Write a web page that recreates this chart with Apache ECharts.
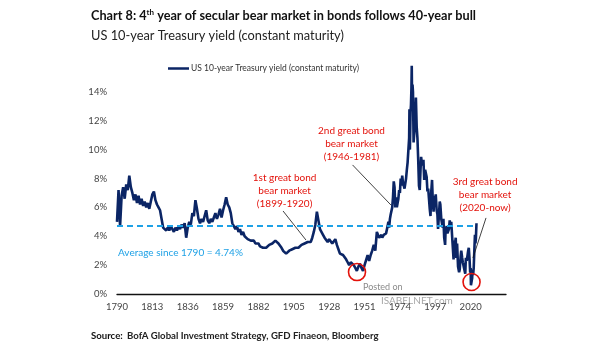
<!DOCTYPE html>
<html>
<head>
<meta charset="utf-8">
<script src="https://cdn.jsdelivr.net/npm/echarts@6/dist/echarts.min.js"></script>
<style>
  html, body { margin: 0; padding: 0; background: #fff; }
  #chart { width: 605px; height: 341px; }
</style>
</head>
<body>
<div id="chart"></div>
<script>
// ---- Data ----
const years = [
  1790,1791,1792,1793,1794,1795,1796,1797,1798,1799,
  1800,1801,1802,1803,1804,1805,1806,1807,1808,1809,
  1810,1811,1812,1813,1814,1815,1816,1817,1818,1819,
  1820,1821,1822,1823,1824,1825,1826,1827,1828,1829,
  1830,1831,1832,1833,1834,1835,1836,1837,1838,1839,
  1840,1841,1842,1843,1844,1845,1846,1847,1848,1849,
  1850,1851,1852,1853,1854,1855,1856,1857,1858,1859,
  1860,1861,1862,1863,1864,1865,1866,1867,1868,1869,
  1870,1871,1872,1873,1874,1875,1876,1877,1878,1879,
  1880,1881,1882,1883,1884,1885,1886,1887,1888,1889,
  1890,1891,1892,1893,1894,1895,1896,1897,1898,1899,
  1900,1901,1902,1903,1904,1905,1906,1907,1908,1909,
  1910,1911,1912,1913,1914,1915,1916,1917,1918,1919,
  1920,1921,1922,1923,1924,1925,1926,1927,1928,1929,
  1930,1931,1932,1933,1934,1935,1936,1937,1938,1939,
  1940,1941,1942,1943,1944,1945,1946,1947,1948,1949,
  1950,1951,1952,1953,1954,1955,1956,1957,1958,1959,
  1960,1960.5,1961,1961.5,1962,1962.5,1963,1963.5,1964,1964.5,
  1965,1965.5,1966,1966.5,1967,1967.5,1968,1968.5,1969,1969.5,
  1970,1970.5,1971,1971.5,1972,1972.5,1973,1973.5,1974,1974.5,
  1975,1975.5,1976,1976.5,1977,1977.5,1978,1978.5,1979,1979.5,
  1980,1980.2,1980.5,1980.9,1981.2,1981.5,1981.7,1981.9,1982.2,1982.5,
  1982.9,1983.3,1983.8,1984.4,1984.9,1985.4,1985.9,1986.4,1986.9,1987.4,
  1987.8,1988.4,1988.9,1989.3,1989.8,1990.4,1990.8,1991.4,1991.9,1992.4,
  1992.9,1993.4,1993.9,1994.4,1994.9,1995.4,1995.9,1996.4,1996.9,1997.3,
  1997.9,1998.4,1998.8,1999.4,1999.9,2000.3,2000.9,2001.4,2001.8,2002.3,
  2002.8,2003.4,2003.7,2004.4,2004.9,2005.4,2005.9,2006.4,2006.9,2007.4,
  2007.9,2008.4,2008.9,2009.4,2009.9,2010.3,2010.7,2011.2,2011.8,2012.5,
  2012.9,2013.5,2013.9,2014.5,2014.9,2015.4,2015.9,2016.5,2016.9,2017.5,
  2017.9,2018.4,2018.8,2019.3,2019.7,2020.0,2020.2,2020.6,2021.0,2021.2,
  2021.6,2022.0,2022.4,2022.8,2023.1,2023.4,2023.8
];
const yields = [
  5.0,7.2,4.7,6.8,7.4,6.6,7.6,7.2,8.2,7.4,
  7.0,6.5,6.9,6.3,6.8,6.2,6.6,6.1,6.4,6.0,
  6.3,5.9,6.4,6.9,7.1,6.5,6.2,6.0,5.8,5.2,
  4.6,4.7,4.4,4.6,4.4,4.7,4.5,4.3,4.6,4.4,
  4.7,4.5,4.8,4.6,4.9,3.9,4.6,5.0,4.8,5.6,
  5.4,6.5,5.9,5.2,4.9,5.2,5.0,5.4,5.8,5.1,
  4.9,5.2,5.0,5.3,5.6,5.2,5.5,5.9,5.3,5.8,
  6.2,6.7,6.2,6.0,5.6,4.9,4.8,4.5,4.7,4.3,
  4.5,4.1,4.3,4.0,4.1,3.8,3.9,3.7,3.6,3.7,
  3.5,3.4,3.5,3.3,3.3,3.2,3.3,3.2,3.3,3.4,
  3.4,3.5,3.5,3.7,3.6,3.5,3.4,3.2,3.0,2.9,
  2.8,2.9,3.0,3.0,3.1,3.1,3.2,3.3,3.2,3.3,
  3.4,3.5,3.5,3.6,3.6,3.7,3.6,3.9,4.3,4.8,
  5.7,5.1,4.5,4.4,4.1,3.9,3.8,3.6,3.8,3.9,
  3.5,3.6,3.8,3.4,3.1,2.8,2.7,2.7,2.6,2.4,
  2.2,2.0,2.2,2.1,2.0,1.8,1.6,1.9,2.1,1.8,
  1.6,2.0,2.1,2.7,2.3,2.7,3.0,3.4,3.0,4.3,
  4.4,3.9,3.8,4.0,4.1,3.9,3.9,4.1,4.2,4.2,
  4.2,4.3,4.7,5.0,4.6,5.2,5.5,5.4,6.0,6.7,
  7.8,7.4,6.0,6.7,6.0,6.3,6.6,7.2,7.0,8.0,
  7.5,8.2,7.7,7.5,7.3,7.4,8.0,8.6,9.1,9.0,
  10.8,12.8,10.0,12.6,13.1,14.3,15.8,13.7,14.5,14.0,
  10.5,10.4,11.8,13.6,11.6,10.8,9.3,7.5,7.2,8.6,
  9.5,8.9,9.1,9.3,7.9,8.6,8.7,8.1,7.1,7.3,
  6.6,5.9,5.4,7.1,7.9,6.4,5.7,6.8,6.3,6.9,
  5.8,5.5,4.5,5.5,6.4,6.2,5.2,5.3,4.6,5.2,
  3.9,3.4,4.4,4.7,4.2,4.1,4.5,5.1,4.6,5.0,
  4.1,4.1,2.4,3.7,3.5,3.9,2.5,3.5,1.9,1.5,
  1.7,2.6,3.0,2.5,2.2,2.3,2.2,1.4,2.5,2.3,
  2.4,3.0,3.2,2.4,1.5,1.8,0.6,0.5,1.1,1.7,
  1.3,1.8,3.0,4.1,3.5,3.8,4.9
];
const xTickLabels = [1790,1813,1836,1859,1882,1905,1928,1951,1974,1997,2020];
const yTickLabels = [0,2,4,6,8,10,12,14];
const averageYield = 4.74;
const seriesName = 'US 10-year Treasury yield (constant maturity)';

const RED = '#e3120b';
const NAVY = '#0b2565';
const CYAN = '#1ea1e6';
const FONT = 'Lato';

const chart = echarts.init(document.getElementById('chart'), null, {renderer: 'canvas'});

const lineData = years.map((y, i) => [y, yields[i]]);

function leader(a, b) {
  return [{coord: a, lineStyle: {color: '#111', width: 0.8, type: 'solid'}}, {coord: b}];
}
function textMark(coord, text) {
  return {
    coord: coord, symbol: 'circle', symbolSize: 0,
    label: {show: true, position: 'inside', formatter: text, color: RED,
      fontFamily: FONT, fontSize: 10, lineHeight: 13, align: 'center'}
  };
}
function circleMark(coord) {
  return {
    coord: coord, symbol: 'circle', symbolSize: 17,
    itemStyle: {color: 'rgba(0,0,0,0)', borderColor: RED, borderWidth: 1.6},
    label: {show: false}
  };
}

const option = {
  animation: false,
  backgroundColor: '#fff',
  textStyle: {fontFamily: FONT},
  title: [
    {
      left: 86, top: 3,
      text: '{b|Chart 8: 4}{sup|th}{b| year of secular bear market in bonds follows 40-year bull}',
      textStyle: {
        rich: {
          b: {fontFamily: FONT, fontWeight: 'bold', fontSize: 12.7, color: '#111'},
          sup: {fontFamily: FONT, fontWeight: 'bold', fontSize: 8, color: '#111', padding: [0, 0, 7, 0]}
        }
      }
    },
    {
      left: 86, top: 24,
      text: 'US 10-year Treasury yield (constant maturity)',
      textStyle: {fontFamily: FONT, fontWeight: 'normal', fontSize: 12.8, color: '#222'}
    },
    {
      left: 86, top: 322,
      text: '{b|Source:} {n|BofA Global Investment Strategy, GFD Finaeon, Bloomberg}',
      textStyle: {
        rich: {
          b: {fontFamily: FONT, fontWeight: 'bold', fontSize: 9.6, color: '#111'},
          n: {fontFamily: FONT, fontSize: 9.6, color: '#222'}
        }
      }
    }
  ],
  legend: {
    left: 163, top: 59,
    icon: 'rect', itemWidth: 21, itemHeight: 2.5, itemGap: 4,
    textStyle: {fontFamily: FONT, fontSize: 8.5, color: '#333', padding: [0, 0, 0, -3]},
    data: [seriesName]
  },
  grid: {left: 117, right: 99, top: 63, bottom: 47, containLabel: false},
  xAxis: {
    type: 'value', min: 1790, max: 2043, interval: 23,
    axisLine: {show: true, lineStyle: {color: '#111', width: 1.3}},
    axisTick: {show: false},
    splitLine: {show: false},
    axisLabel: {
      color: '#444', fontFamily: FONT, fontSize: 9.5, margin: 8,
      formatter: v => xTickLabels.includes(v) ? String(v) : ''
    }
  },
  yAxis: {
    type: 'value', min: 0, max: 16, interval: 2,
    axisLine: {show: false}, axisTick: {show: false}, splitLine: {show: false},
    axisLabel: {
      color: '#444', fontFamily: FONT, fontSize: 9.5, margin: 10,
      formatter: v => yTickLabels.includes(v) ? v + '%' : ''
    }
  },
  graphic: [
    {type: 'text', left: 363, top: 283, silent: true,
      style: {text: 'Posted on', fill: '#8a8a8a', font: '9px Lato'}},
    {type: 'text', left: 381, top: 296, silent: true,
      style: {text: 'ISABELNET.com', fill: '#a8a8a8', font: '10px Lato'}}
  ],
  series: [
    {
      name: seriesName, type: 'line', data: lineData,
      showSymbol: false, smooth: false,
      lineStyle: {color: NAVY, width: 2.6},
      itemStyle: {color: NAVY},
      z: 3,
      markLine: {
        silent: true, symbol: ['none', 'none'], label: {show: false},
        data: [
          [{coord: [1790, averageYield], lineStyle: {color: CYAN, width: 1.8, type: [6, 4]}},
           {coord: [2023.5, averageYield]}],
          leader([1898, 5.75], [1912.9, 3.74]),
          leader([1943.2, 8.94], [1968.2, 6.16]),
          leader([2030, 5.27], [2021.5, 2.5])
        ]
      },
      markPoint: {
        silent: true,
        data: [
          circleMark([1946.1, 1.52]),
          circleMark([2020.6, 0.83]),
          textMark([1899, 7.14], '1st great bond\nbear market\n(1899-1920)'),
          textMark([1942.5, 10.4], '2nd great bond\nbear market\n(1946-1981)'),
          textMark([2029.4, 6.86], '3rd great bond\nbear market\n(2020-now)'),
          {
            coord: [1790, 2.84], symbol: 'circle', symbolSize: 0,
            label: {show: true, position: 'right', distance: 1,
              formatter: 'Average since 1790 = ' + averageYield + '%',
              color: CYAN, fontFamily: FONT, fontSize: 10}
          }
        ]
      }
    }
  ]
};

chart.setOption(option);
</script>
</body>
</html>
